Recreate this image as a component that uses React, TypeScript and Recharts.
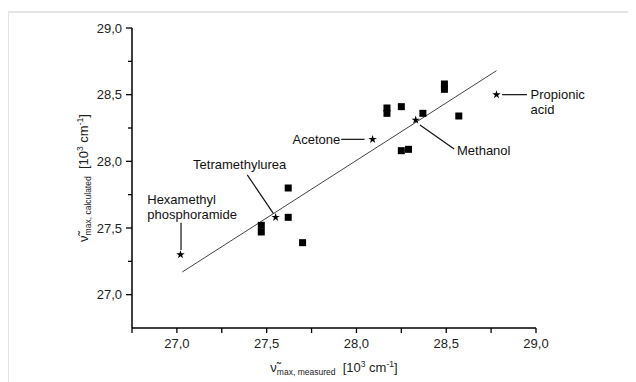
import * as React from "react";
import {
  ScatterChart,
  Scatter,
  XAxis,
  YAxis,
  ReferenceLine,
  Symbols,
} from "recharts";

// measured vs calculated band maxima, 10^3 cm^-1
const solventPoints = [
  { x: 27.62, y: 27.8 },
  { x: 27.62, y: 27.58 },
  { x: 27.47, y: 27.52 },
  { x: 27.47, y: 27.47 },
  { x: 27.7, y: 27.39 },
  { x: 28.17, y: 28.4 },
  { x: 28.17, y: 28.36 },
  { x: 28.25, y: 28.41 },
  { x: 28.37, y: 28.36 },
  { x: 28.25, y: 28.08 },
  { x: 28.29, y: 28.09 },
  { x: 28.49, y: 28.58 },
  { x: 28.49, y: 28.54 },
  { x: 28.57, y: 28.34 },
];

const namedSolvents = [
  { name: "Hexamethyl phosphoramide", x: 27.02, y: 27.3 },
  { name: "Tetramethylurea", x: 27.55, y: 27.58 },
  { name: "Acetone", x: 28.09, y: 28.165 },
  { name: "Methanol", x: 28.33, y: 28.31 },
  { name: "Propionic acid", x: 28.78, y: 28.5 },
];

const fitLine = [
  { x: 27.03, y: 27.17 },
  { x: 28.78, y: 28.68 },
];

const annotationLabels = [
  { x: 27.91, y: 28.165, lines: ["Acetone"], anchor: "end" },
  { x: 27.35, y: 27.98, lines: ["Tetramethylurea"], anchor: "middle" },
  { x: 26.835, y: 27.715, lines: ["Hexamethyl", "phosphoramide"], anchor: "start" },
  { x: 28.56, y: 28.085, lines: ["Methanol"], anchor: "start" },
  { x: 28.97, y: 28.5, lines: ["Propionic", "acid"], anchor: "start" },
];

const leaderLines = [
  [{ x: 27.915, y: 28.165 }, { x: 28.045, y: 28.165 }],
  [{ x: 27.392, y: 27.898 }, { x: 27.537, y: 27.61 }],
  [{ x: 27.023, y: 27.54 }, { x: 27.023, y: 27.335 }],
  [{ x: 28.354, y: 28.272 }, { x: 28.544, y: 28.092 }],
  [{ x: 28.811, y: 28.5 }, { x: 28.95, y: 28.5 }],
];

const xTicks = [26.75, 27, 27.25, 27.5, 27.75, 28, 28.25, 28.5, 28.75, 29];
const yTicks = [27, 27.25, 27.5, 27.75, 28, 28.25, 28.5, 28.75, 29];

const FONT = "'Liberation Sans', Arial, sans-serif";

const isMajor = (v: number) => Math.abs(v * 2 - Math.round(v * 2)) < 1e-6;
const fmt = (v: number) => v.toFixed(1).replace(".", ",");

function XTick(props: any) {
  const { x, y, payload } = props;
  const major = isMajor(payload.value);
  return (
    <g>
      <line x1={x} x2={x} y1={y} y2={y + 5} stroke="#000" strokeWidth={1.3} />
      {major && (
        <text x={x} y={y + 20} textAnchor="middle" fontSize={13} fill="#222" fontFamily={FONT}>
          {fmt(payload.value)}
        </text>
      )}
    </g>
  );
}

function YTick(props: any) {
  const { x, y, payload } = props;
  const major = isMajor(payload.value);
  return (
    <g>
      <line x1={x - (major ? 6 : 4)} x2={x} y1={y} y2={y} stroke="#000" strokeWidth={1.3} />
      {major && (
        <text x={x - 10} y={y + 4.5} textAnchor="end" fontSize={13} fill="#222" fontFamily={FONT}>
          {fmt(payload.value)}
        </text>
      )}
    </g>
  );
}

function XTitle(props: any) {
  const vb = props.viewBox || { x: 124, y: 320, width: 404, height: 54 };
  const cx = vb.x + vb.width / 2;
  const by = vb.y + 44;
  return (
    <text x={cx} y={by} textAnchor="middle" fontSize={13} fill="#222" fontFamily={FONT}>
      <tspan>ν̃</tspan>
      <tspan fontSize={8.5} dy={3}>max, measured</tspan>
      <tspan dy={-3}>{"\u00a0\u00a0[10"}</tspan>
      <tspan fontSize={8.5} dy={-5}>3</tspan>
      <tspan dy={5}>{" cm"}</tspan>
      <tspan fontSize={8.5} dy={-5}>-1</tspan>
      <tspan dy={5}>]</tspan>
    </text>
  );
}

function YTitle(props: any) {
  const vb = props.viewBox || { x: 0, y: 20, width: 124, height: 300 };
  const bx = vb.x + 80;
  const cy = vb.y + vb.height / 2;
  return (
    <text
      x={bx}
      y={cy}
      transform={`rotate(-90 ${bx} ${cy})`}
      textAnchor="middle"
      fontSize={13}
      fill="#222"
      fontFamily={FONT}
    >
      <tspan>ν̃</tspan>
      <tspan fontSize={8.5} dy={3}>max, calculated</tspan>
      <tspan dy={-3}>{"\u00a0\u00a0[10"}</tspan>
      <tspan fontSize={8.5} dy={-5}>3</tspan>
      <tspan dy={5}>{" cm"}</tspan>
      <tspan fontSize={8.5} dy={-5}>-1</tspan>
      <tspan dy={5}>]</tspan>
    </text>
  );
}

const SquareShape = (p: any) => (
  <rect x={p.cx - 3.5} y={p.cy - 3.5} width={7} height={7} fill="#000" />
);

const StarShape = (p: any) => (
  <Symbols cx={p.cx} cy={p.cy} type="star" size={22} fill="#000" />
);

const AnnotationShape = (p: any) => {
  const d = p.payload;
  return (
    <text
      x={p.cx}
      y={p.cy + 4.5}
      textAnchor={d.anchor}
      fontSize={13}
      fill="#111"
      fontFamily={FONT}
    >
      {d.lines.map((l: string, i: number) => (
        <tspan key={i} x={p.cx} dy={i === 0 ? 0 : 15}>
          {l}
        </tspan>
      ))}
    </text>
  );
};

export default function App() {
  return (
    <div style={{ position: "relative", width: 628, height: 374 }}>
      <style>{"html,body{overflow:hidden}"}</style>
      <div
        style={{
          position: "absolute",
          left: -1,
          top: 3,
          width: 629,
          height: 371,
          borderTop: "2px solid #e4e4e4",
          borderLeft: "2px solid #e4e4e4",
          boxSizing: "border-box",
        }}
      />
      <ScatterChart
        width={628}
        height={374}
        margin={{ top: 20, right: 100, bottom: 0, left: 0 }}
        style={{ position: "absolute", left: 0, top: 0 }}
      >
        <XAxis
          type="number"
          dataKey="x"
          domain={[26.75, 29]}
          ticks={xTicks}
          interval={0}
          tickSize={0}
          tickMargin={0}
          tickLine={false}
          tick={(p: any) => <XTick {...p} />}
          axisLine={{ stroke: "#000", strokeWidth: 1.5 }}
          height={54}
          label={{ content: (p: any) => <XTitle {...p} /> }}
        />
        <YAxis
          type="number"
          dataKey="y"
          domain={[26.75, 29]}
          ticks={yTicks}
          interval={0}
          tickSize={0}
          tickMargin={0}
          tickLine={false}
          tick={(p: any) => <YTick {...p} />}
          axisLine={{ stroke: "#000", strokeWidth: 1.5 }}
          width={124}
          label={{ content: (p: any) => <YTitle {...p} /> }}
        />
        <ReferenceLine
          segment={fitLine}
          stroke="#444"
          strokeWidth={1}
        />
        {leaderLines.map((seg, i) => (
          <ReferenceLine key={i} segment={seg} stroke="#111" strokeWidth={1.2} />
        ))}
        <Scatter data={solventPoints} shape={SquareShape} isAnimationActive={false} />
        <Scatter data={namedSolvents} shape={StarShape} isAnimationActive={false} />
        <Scatter data={annotationLabels} shape={AnnotationShape} isAnimationActive={false} />
      </ScatterChart>
    </div>
  );
}
